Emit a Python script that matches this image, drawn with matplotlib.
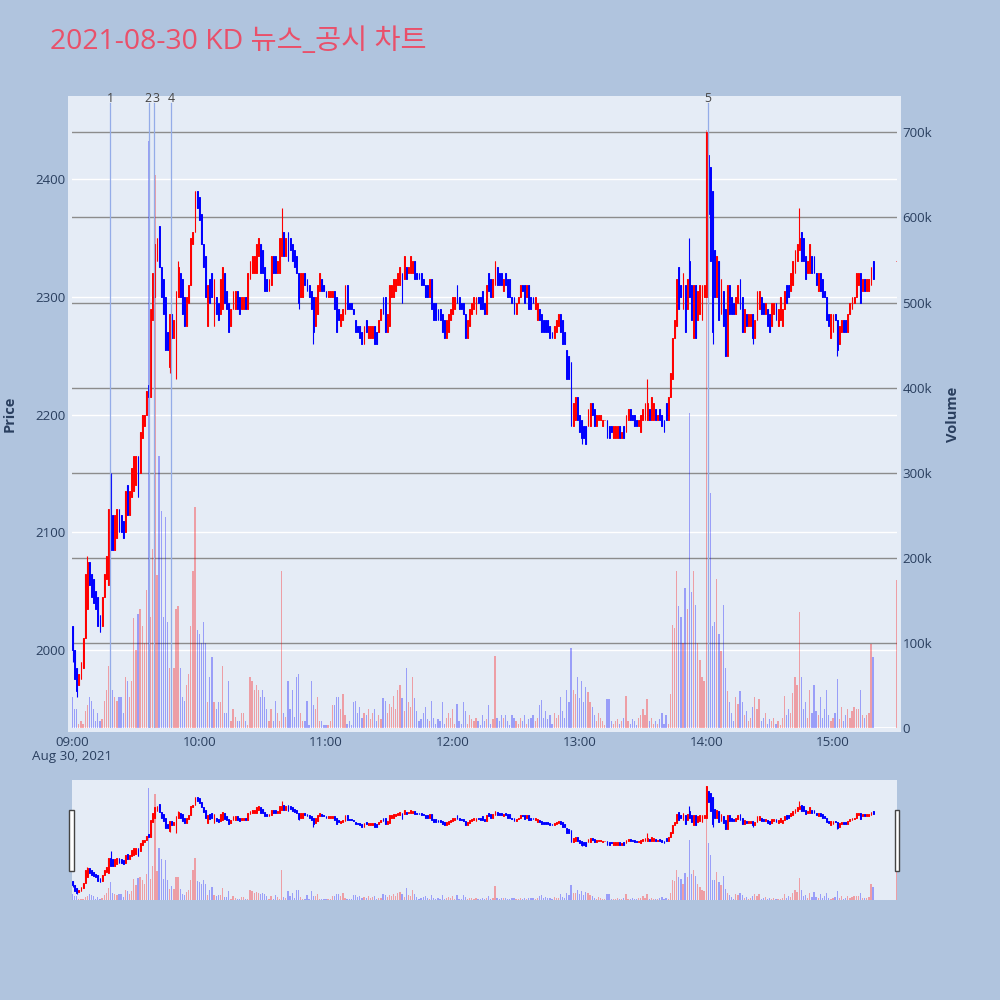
import matplotlib
matplotlib.use('Agg')
import matplotlib.pyplot as plt
import numpy as np
import pandas as pd
from matplotlib.patches import Rectangle

plt.rcParams['font.family'] = ['Open Sans', 'Noto Sans CJK KR', 'DejaVu Sans']

# 1-minute bars 09:00-15:19 and the 15:30 closing auction
TIMES = list(pd.date_range('2021-08-30 09:00', periods=380, freq='min')) + [pd.Timestamp('2021-08-30 15:30')]

OPEN = [
    2020, 2000, 1985, 1970, 1975, 1985, 2010, 2035, 2075, 2065,
    2060, 2050, 2045, 2030, 2020, 2045, 2060, 2055, 2120, 2115,
    2085, 2095, 2120, 2115, 2110, 2100, 2140, 2115, 2130, 2135,
    2140, 2165, 2150, 2180, 2190, 2200, 2225, 2215, 2280, 2300,
    2330, 2360, 2325, 2315, 2300, 2270, 2240, 2285, 2265, 2235,
    2300, 2320, 2315, 2300, 2275, 2295, 2310, 2345, 2355, 2390,
    2385, 2370, 2345, 2335, 2275, 2315, 2320, 2275, 2300, 2295,
    2285, 2290, 2320, 2305, 2295, 2275, 2290, 2290, 2305, 2300,
    2290, 2290, 2300, 2290, 2315, 2320, 2320, 2320, 2335, 2345,
    2340, 2325, 2315, 2305, 2310, 2335, 2335, 2320, 2320, 2335,
    2355, 2335, 2355, 2350, 2345, 2340, 2335, 2320, 2300, 2300,
    2320, 2315, 2310, 2305, 2300, 2275, 2285, 2305, 2315, 2310,
    2305, 2300, 2300, 2300, 2305, 2300, 2290, 2275, 2280, 2285,
    2310, 2295, 2295, 2290, 2280, 2275, 2275, 2270, 2260, 2280,
    2265, 2265, 2265, 2275, 2270, 2270, 2280, 2300, 2300, 2270,
    2275, 2300, 2300, 2305, 2310, 2310, 2320, 2315, 2325, 2320,
    2320, 2320, 2330, 2320, 2320, 2320, 2315, 2310, 2310, 2300,
    2315, 2295, 2295, 2290, 2290, 2285, 2280, 2265, 2270, 2280,
    2285, 2290, 2310, 2300, 2295, 2295, 2285, 2265, 2275, 2285,
    2290, 2285, 2300, 2300, 2305, 2295, 2285, 2320, 2315, 2300,
    2310, 2325, 2320, 2320, 2305, 2320, 2315, 2315, 2300, 2300,
    2285, 2295, 2300, 2310, 2310, 2300, 2310, 2300, 2300, 2290,
    2280, 2290, 2285, 2280, 2280, 2280, 2275, 2270, 2265, 2270,
    2275, 2285, 2280, 2270, 2255, 2250, 2245, 2190, 2195, 2215,
    2200, 2195, 2190, 2190, 2190, 2190, 2210, 2205, 2190, 2195,
    2195, 2190, 2195, 2195, 2190, 2190, 2180, 2180, 2180, 2190,
    2180, 2190, 2185, 2195, 2205, 2200, 2200, 2195, 2190, 2185,
    2195, 2195, 2195, 2205, 2195, 2195, 2205, 2195, 2205, 2200,
    2195, 2210, 2195, 2215, 2230, 2265, 2275, 2325, 2310, 2290,
    2310, 2290, 2330, 2310, 2265, 2310, 2280, 2285, 2280, 2300,
    2300, 2420, 2410, 2390, 2340, 2300, 2330, 2285, 2305, 2290,
    2250, 2310, 2300, 2295, 2285, 2295, 2315, 2300, 2270, 2285,
    2275, 2275, 2285, 2265, 2280, 2290, 2300, 2295, 2285, 2290,
    2285, 2275, 2285, 2295, 2275, 2280, 2275, 2290, 2310, 2310,
    2305, 2310, 2320, 2330, 2340, 2355, 2350, 2335, 2320, 2320,
    2335, 2335, 2320, 2305, 2320, 2315, 2305, 2300, 2285, 2265,
    2270, 2285, 2280, 2260, 2270, 2280, 2280, 2270, 2285, 2290,
    2295, 2300, 2310, 2320, 2305, 2315, 2305, 2305, 2310, 2330,
    2330,
]

CLOSE = [
    2000, 1975, 1965, 1980, 1990, 2010, 2065, 2075, 2055, 2045,
    2040, 2035, 2020, 2015, 2045, 2065, 2080, 2120, 2085, 2085,
    2115, 2120, 2100, 2100, 2095, 2135, 2115, 2135, 2155, 2165,
    2165, 2130, 2185, 2200, 2200, 2220, 2215, 2290, 2320, 2345,
    2350, 2325, 2300, 2285, 2255, 2255, 2285, 2265, 2280, 2305,
    2325, 2300, 2285, 2275, 2300, 2310, 2350, 2355, 2390, 2375,
    2365, 2345, 2325, 2300, 2310, 2295, 2300, 2315, 2285, 2280,
    2315, 2325, 2295, 2290, 2270, 2290, 2305, 2305, 2290, 2285,
    2300, 2300, 2290, 2320, 2330, 2335, 2335, 2345, 2350, 2320,
    2320, 2305, 2305, 2315, 2335, 2320, 2320, 2330, 2350, 2350,
    2335, 2350, 2330, 2340, 2330, 2325, 2320, 2295, 2320, 2320,
    2310, 2305, 2300, 2290, 2270, 2300, 2310, 2320, 2305, 2305,
    2300, 2305, 2305, 2305, 2290, 2270, 2280, 2285, 2290, 2310,
    2290, 2290, 2290, 2285, 2270, 2270, 2265, 2260, 2275, 2270,
    2275, 2275, 2275, 2260, 2260, 2280, 2290, 2285, 2270, 2285,
    2310, 2310, 2315, 2315, 2320, 2325, 2295, 2335, 2315, 2325,
    2335, 2330, 2315, 2315, 2315, 2310, 2310, 2300, 2300, 2315,
    2290, 2280, 2280, 2280, 2280, 2270, 2265, 2280, 2285, 2290,
    2300, 2300, 2295, 2290, 2290, 2285, 2265, 2280, 2290, 2295,
    2300, 2300, 2295, 2290, 2290, 2285, 2310, 2305, 2300, 2315,
    2330, 2310, 2310, 2310, 2315, 2310, 2300, 2300, 2295, 2285,
    2295, 2300, 2310, 2305, 2295, 2310, 2290, 2290, 2295, 2300,
    2295, 2280, 2270, 2270, 2270, 2270, 2265, 2265, 2275, 2280,
    2285, 2270, 2260, 2260, 2230, 2230, 2190, 2210, 2215, 2195,
    2185, 2180, 2180, 2175, 2205, 2210, 2200, 2190, 2200, 2200,
    2200, 2195, 2195, 2180, 2180, 2185, 2190, 2190, 2190, 2180,
    2185, 2180, 2200, 2205, 2195, 2195, 2190, 2190, 2195, 2200,
    2205, 2210, 2210, 2195, 2215, 2210, 2195, 2200, 2195, 2190,
    2185, 2195, 2215, 2235, 2265, 2280, 2315, 2290, 2300, 2320,
    2270, 2315, 2300, 2280, 2310, 2265, 2305, 2310, 2310, 2310,
    2440, 2370, 2330, 2270, 2300, 2335, 2280, 2315, 2275, 2250,
    2310, 2285, 2285, 2285, 2300, 2310, 2290, 2270, 2290, 2275,
    2285, 2285, 2265, 2280, 2305, 2305, 2285, 2285, 2295, 2275,
    2270, 2295, 2295, 2280, 2290, 2300, 2290, 2305, 2295, 2300,
    2320, 2330, 2340, 2345, 2350, 2330, 2330, 2315, 2330, 2345,
    2320, 2320, 2310, 2320, 2305, 2300, 2300, 2280, 2275, 2285,
    2285, 2280, 2255, 2275, 2280, 2270, 2270, 2285, 2295, 2300,
    2300, 2320, 2320, 2295, 2315, 2305, 2315, 2315, 2325, 2315,
    2330,
]

# wicks that stick out beyond the body (bar index -> price)
HIGH_WICK = {7: 2080, 18: 2150, 50: 2330, 99: 2375, 272: 2230, 292: 2350, 344: 2375}
LOW_WICK = {0: 1990, 2: 1960, 46: 2235, 49: 2230, 107: 2290, 114: 2260,
            241: 2175, 303: 2260, 322: 2260, 362: 2250}

VOLUME_K = [
    36, 22, 22, 5, 8, 5, 20, 27, 36, 32,
    22, 8, 18, 8, 10, 32, 45, 73, 110, 45,
    36, 32, 36, 36, 18, 60, 55, 36, 55, 129,
    92, 134, 140, 120, 100, 162, 690, 130, 210, 650,
    180, 320, 255, 130, 248, 125, 70, 87, 70, 140,
    143, 70, 36, 32, 50, 64, 120, 185, 260, 115,
    110, 100, 124, 100, 30, 60, 83, 30, 22, 30,
    30, 73, 18, 18, 55, 8, 22, 13, 8, 8,
    18, 18, 8, 4, 60, 55, 45, 50, 45, 36,
    45, 36, 22, 8, 22, 8, 32, 18, 8, 185,
    18, 13, 55, 22, 45, 13, 60, 64, 18, 8,
    8, 32, 4, 55, 27, 22, 36, 8, 8, 4,
    4, 4, 8, 27, 27, 36, 36, 22, 40, 15,
    5, 8, 4, 30, 32, 18, 25, 12, 18, 15,
    22, 10, 18, 22, 8, 15, 10, 35, 32, 18,
    28, 25, 38, 22, 45, 50, 35, 20, 71, 30,
    25, 60, 35, 20, 8, 10, 18, 25, 10, 8,
    32, 12, 5, 10, 8, 30, 5, 12, 18, 12,
    22, 5, 28, 8, 5, 30, 20, 5, 15, 10,
    8, 12, 8, 4, 15, 8, 10, 27, 5, 10,
    85, 12, 8, 15, 12, 15, 8, 4, 15, 12,
    8, 5, 12, 8, 15, 5, 10, 12, 15, 8,
    12, 27, 33, 12, 20, 10, 15, 5, 18, 12,
    15, 36, 20, 12, 45, 30, 94, 45, 40, 60,
    35, 55, 30, 48, 42, 30, 25, 15, 8, 18,
    12, 8, 4, 34, 34, 8, 5, 8, 10, 5,
    8, 12, 38, 8, 5, 10, 8, 4, 12, 15,
    22, 15, 34, 8, 12, 5, 8, 5, 10, 18,
    5, 15, 5, 40, 121, 118, 185, 143, 130, 100,
    165, 140, 370, 160, 185, 145, 100, 80, 60, 55,
    703, 352, 276, 120, 125, 175, 110, 90, 145, 70,
    43, 30, 18, 8, 36, 28, 43, 30, 15, 20,
    8, 12, 25, 36, 22, 34, 8, 12, 18, 5,
    10, 8, 12, 5, 8, 4, 12, 38, 15, 22,
    18, 41, 60, 50, 136, 60, 22, 30, 12, 45,
    18, 50, 20, 15, 36, 12, 22, 45, 15, 8,
    12, 18, 57, 10, 25, 8, 15, 22, 12, 20,
    25, 22, 22, 45, 15, 12, 15, 18, 99, 83,
    174,
]

NEWS_TIMES = ['09:17:54', '09:36:12', '09:38:42', '09:46:48', '14:00:42']
NEWS_LABELS = ['1', '2', '3', '4', '5']
# small sideways nudge (points) so the close labels 2 and 3 do not collide
NEWS_NUDGE = [0, -1.1, 1.1, 0, 0]

PRICE_TICKS = [2000, 2100, 2200, 2300, 2400]
VOL_TICKS = [0, 100, 200, 300, 400, 500, 600, 700]
HOUR_LABELS = ['09:00', '10:00', '11:00', '12:00', '13:00', '14:00', '15:00']

PMIN, PMAX = 1933.8, 2467.1
VMAX = 738
XMIN, XMAX = -0.24, 390.3

t0 = TIMES[0]
x = np.array([(t - t0).total_seconds() / 60 for t in TIMES])
o = np.array(OPEN, dtype=float)
c = np.array(CLOSE, dtype=float)
body_hi = np.maximum(o, c)
body_lo = np.minimum(o, c)
hi = body_hi.copy()
lo = body_lo.copy()
for k, v in HIGH_WICK.items():
    hi[k] = v
for k, v in LOW_WICK.items():
    lo[k] = v
cols = np.where(c >= o, '#ff0000', '#0000ff')
vol = np.array(VOLUME_K, dtype=float)

news_x = [(pd.Timestamp('2021-08-30 ' + s) - t0).total_seconds() / 60 for s in NEWS_TIMES]
hour_x = [(pd.Timestamp('2021-08-30 ' + s) - t0).total_seconds() / 60 for s in HOUR_LABELS]

TXT = '#2a3f5f'
FS = 9.6


def draw(axv, axp):
    axv.bar(x, vol, width=0.6, color=cols, alpha=0.33, linewidth=0, zorder=2)
    axp.vlines(x, lo, hi, colors=cols, linewidth=0.8, zorder=3)
    axp.bar(x, body_hi - body_lo, bottom=body_lo, width=0.42, color=cols,
            edgecolor=cols, linewidth=0.7, zorder=4)
    axv.set_ylim(0, VMAX)
    axp.set_ylim(PMIN, PMAX)
    axv.set_xlim(XMIN, XMAX)
    for a in (axv, axp):
        for s in a.spines.values():
            s.set_visible(False)


fig = plt.figure(figsize=(10, 10), dpi=100)
fig.patch.set_facecolor('#B0C4DE')
fig.add_artist(Rectangle((0.068, 0.268), 0.833, 0.636, transform=fig.transFigure,
                         facecolor='#E5ECF6', edgecolor='none', zorder=-1))

axv = fig.add_axes([0.072, 0.272, 0.825, 0.628])
axv.set_facecolor('none')
axp = axv.twinx()
axp.set_facecolor('none')

# grid: white for price, grey for volume
for p in PRICE_TICKS:
    axv.axhline((p - PMIN) / (PMAX - PMIN) * VMAX, color='white', lw=1, zorder=1)
for v in VOL_TICKS[1:]:
    axv.axhline(v, color='#8c8c8c', lw=1, zorder=1.5)
axv.axhline(0, color='white', lw=2, zorder=1.5)

draw(axv, axp)

axp.yaxis.set_ticks_position('left')
axp.set_yticks(PRICE_TICKS)
axp.tick_params(axis='y', length=0, pad=4.5, labelsize=FS, labelcolor=TXT)
axv.yaxis.set_ticks_position('right')
axv.set_yticks(VOL_TICKS)
axv.set_yticklabels(['0'] + ['%dk' % v for v in VOL_TICKS[1:]])
axv.tick_params(axis='y', length=0, pad=4.0, labelsize=FS, labelcolor=TXT)
axp.xaxis.set_visible(False)
axv.set_xticks(hour_x)
axv.set_xticklabels([HOUR_LABELS[0] + '\nAug 30, 2021'] + HOUR_LABELS[1:],
                    linespacing=1.15)
axv.tick_params(axis='x', length=0, pad=5.5, labelsize=FS, labelcolor=TXT)

for nx, lab, dx in zip(news_x, NEWS_LABELS, NEWS_NUDGE):
    axp.axvline(nx, ymin=0, ymax=0.995, color='#94ACE8', lw=0.9, zorder=6)
    axp.annotate(lab, (nx, 1), xycoords=('data', 'axes fraction'), xytext=(dx, -1.2),
                 textcoords='offset points', ha='center', va='baseline',
                 fontsize=8.8, color='#444444')

fig.text(0.010, 0.586, 'Price', rotation=90, ha='center', va='center',
         fontsize=10.5, weight='bold', color=TXT)
fig.text(0.953, 0.586, 'Volume', rotation=90, ha='center', va='center',
         fontsize=10.5, weight='bold', color=TXT)
fig.text(0.050, 0.9507, '2021-08-30 KD 뉴스_공시 차트', fontsize=20.4,
         color='#E9506A', va='baseline')

# range slider
arv = fig.add_axes([0.072, 0.100, 0.825, 0.120])
arv.set_facecolor('#E5ECF6')
arp = arv.twinx()
draw(arv, arp)
for a in (arv, arp):
    a.set_xticks([])
    a.set_yticks([])
for hx in (0.0693, 0.8948):
    fig.add_artist(Rectangle((hx, 0.129), 0.0044, 0.061, transform=fig.transFigure,
                             facecolor='white', edgecolor='#444444', lw=1, zorder=5))

fig.savefig('out.png', dpi=100, facecolor=fig.get_facecolor())
